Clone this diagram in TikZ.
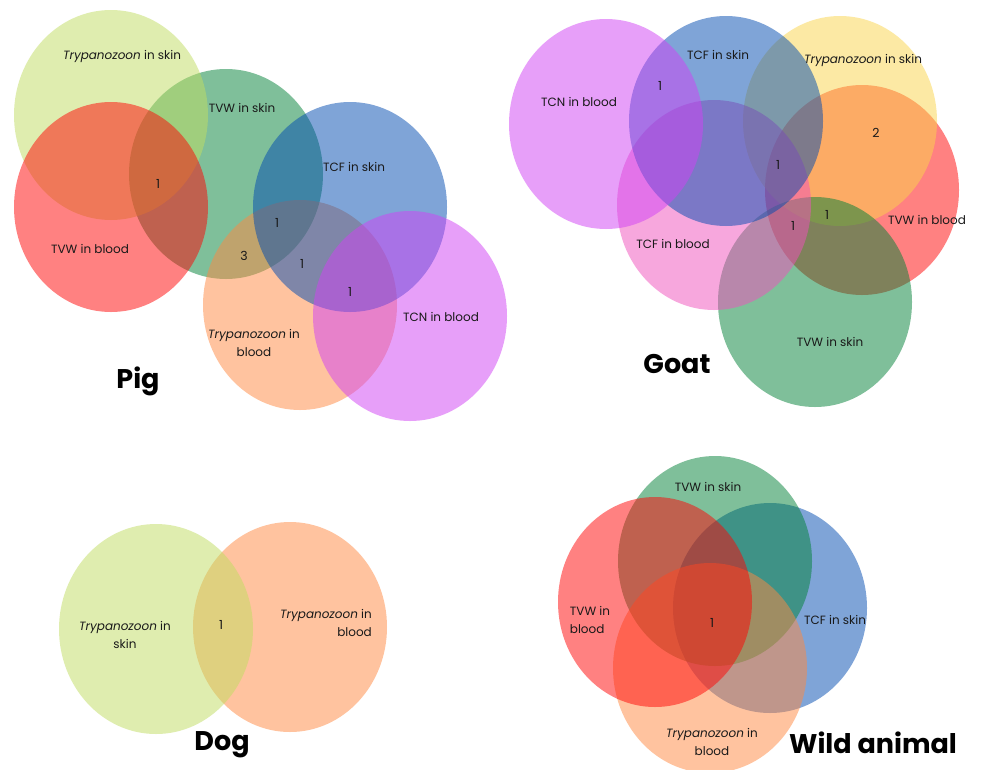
\documentclass[tikz,border=0pt]{standalone}
\usepackage{fontspec}
\setmainfont{Poppins}
\usepackage{tikz}
\usetikzlibrary{shapes}
\definecolor{lgreen}{RGB}{193,221,97}
\definecolor{vred}{RGB}{255,5,5}
\definecolor{vgreen}{RGB}{0,129,55}
\definecolor{vblue}{RGB}{0,75,177}
\definecolor{vpeach}{RGB}{255,137,65}
\definecolor{vviolet}{RGB}{209,65,245}
\definecolor{vyellow}{RGB}{251,213,75}
\definecolor{vpink}{RGB}{241,81,189}
\definecolor{inkc}{RGB}{25,25,25}
\newcommand{\tryp}{\textit{Trypanozoon}}

\begin{document}
\begin{tikzpicture}[x=1pt,y=-1pt,align=center,
					set node/.style={ellipse,minimum width=194pt,minimum height=210pt,inner sep=0pt,draw=none,fill opacity=0.5},
					label node/.style={font=\fontsize{12}{18}\selectfont,text=inkc},
					count node/.style={font=\fontsize{12.5}{14}\selectfont,text=inkc},
					title node/.style={font=\fontsize{27}{30}\selectfont\bfseries,text=black}]

					\useasboundingbox[fill=white] (0,0) rectangle (982,769);

					% pig
					\node[set node,fill=vgreen] (pigtvws) at (226,174) {};
					\node[set node,fill=lgreen] (pigtrs) at (111,115) {};
					\node[set node,fill=vred] (pigtvwb) at (111,207) {};
					\node[set node,fill=vpeach] (pigtrb) at (300,305) {};
					\node[set node,fill=vblue] (pigtcfs) at (350,207) {};
					\node[set node,fill=vviolet] (pigtcnb) at (410,316) {};

					\node[label node] (l1) at (122,56) {\tryp{} in skin};
					\node[label node] (l2) at (242,108) {TVW in skin};
					\node[label node] (l3) at (354,167) {TCF in skin};
					\node[label node] (l4) at (90,249) {TVW in blood};
					\node[label node] (l5) at (254,343) {\tryp{} in\\blood};
					\node[label node] (l6) at (441,317) {TCN in blood};
					\node[count node] (c1) at (158,184) {1};
					\node[count node] (c2) at (277,223) {1};
					\node[count node] (c3) at (244,256) {3};
					\node[count node] (c4) at (302,264) {1};
					\node[count node] (c5) at (350,292) {1};
					\node[title node] (pig) at (138,381) {Pig};

					% goat
					\node[set node,fill=vred] (gtvwb) at (862,190) {};
					\node[set node,fill=vyellow] (gtrs) at (840,121) {};
					\node[set node,fill=vgreen] (gtvws) at (815,302) {};
					\node[set node,fill=vpink] (gtcfb) at (714,205) {};
					\node[set node,fill=vblue] (gtcfs) at (726,121) {};
					\node[set node,fill=vviolet] (gtcnb) at (606,124) {};

					\node[label node] (m1) at (579,102) {TCN in blood};
					\node[label node] (m2) at (718,55) {TCF in skin};
					\node[label node] (m3) at (863,60) {\tryp{} in skin};
					\node[label node] (m4) at (927,220) {TVW in blood};
					\node[label node] (m5) at (673,244) {TCF in blood};
					\node[label node] (m6) at (830,342) {TVW in skin};
					\node[count node] (d1) at (660,86) {1};
					\node[count node] (d2) at (876,133) {2};
					\node[count node] (d3) at (778,165) {1};
					\node[count node] (d4) at (827,215) {1};
					\node[count node] (d5) at (793,226) {1};
					\node[title node] (goat) at (677,364) {Goat};

					% dog
					\node[set node,fill=vpeach] (dtrb) at (290,627) {};
					\node[set node,fill=lgreen] (dtrs) at (156,629) {};

					\node[label node] (n1) at (125,635) {\tryp{} in\\skin};
					\node[label node,align=right] (n2) at (326,623) {\tryp{} in\\blood};
					\node[count node] (e1) at (221,625) {1};
					\node[title node] (dog) at (222,745) {Dog};

					% wild animal
					\node[set node,fill=vblue] (wtcfs) at (770,608) {};
					\node[set node,fill=vgreen] (wtvws) at (715,561) {};
					\node[set node,fill=vpeach] (wtrb) at (710,668) {};
					\node[set node,fill=vred] (wtvwb) at (655,602) {};

					\node[label node] (o1) at (708,487) {TVW in skin};
					\node[label node,align=left] (o2) at (590,620) {TVW in\\blood};
					\node[label node] (o3) at (835,620) {TCF in skin};
					\node[label node] (o4) at (712,742) {\tryp{} in\\blood};
					\node[count node] (f1) at (712,623) {1};
					\node[title node] (wild) at (873,743) {Wild animal};

				\end{tikzpicture}
\end{document}
